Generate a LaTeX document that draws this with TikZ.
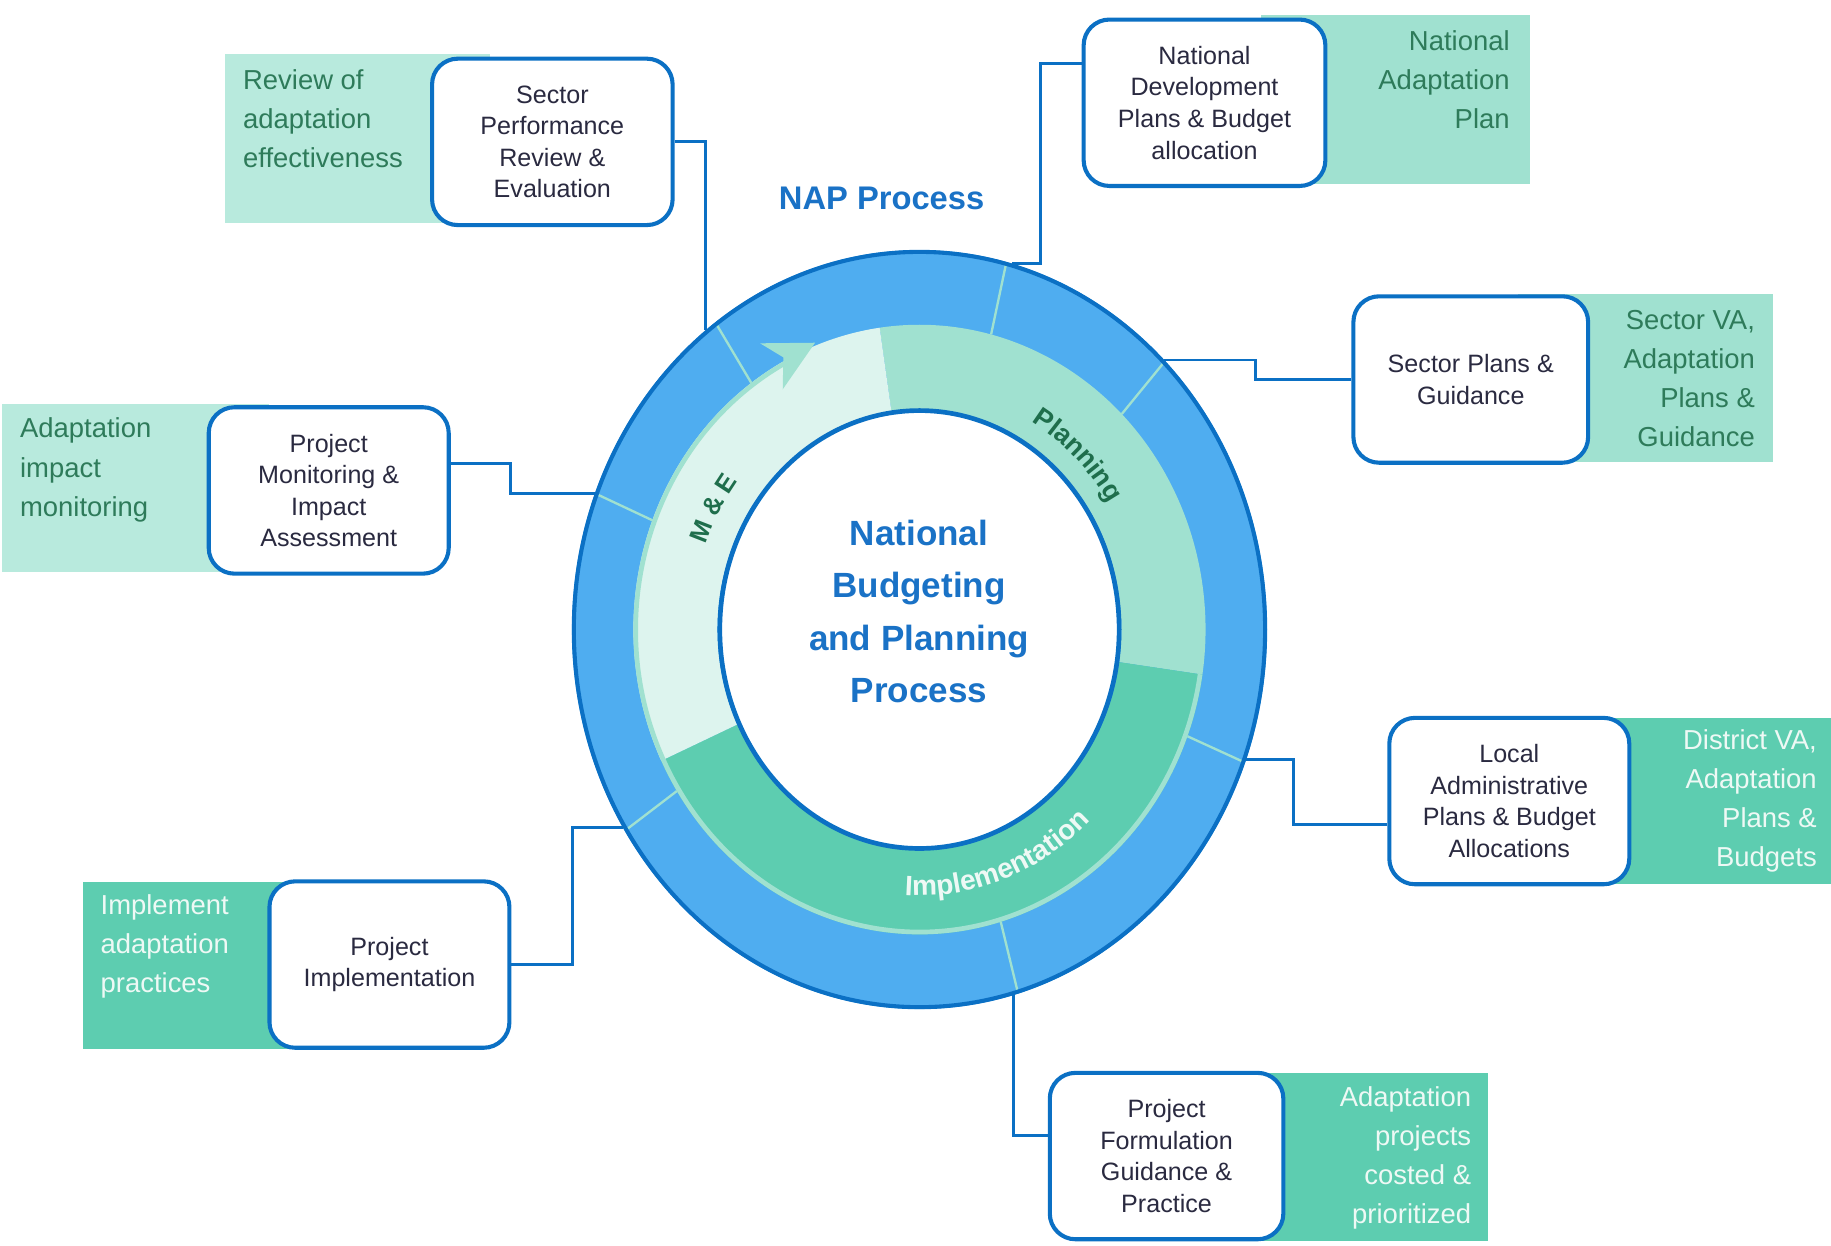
\documentclass[tikz,border=0pt]{standalone}
\usepackage{fontspec}
\setmainfont{Liberation Sans}
\usetikzlibrary{calc,decorations.text}

\definecolor{ringblue}{HTML}{4FADF0}
\definecolor{edgeblue}{HTML}{0B70C4}
\definecolor{mintpale}{HTML}{B8EADD}
\definecolor{mint}{HTML}{A0E1D0}
\definecolor{sea}{HTML}{5DCDB0}
\definecolor{mefill}{HTML}{DDF4EE}
\definecolor{labelgreen}{HTML}{2E7B5A}
\definecolor{ringtext}{HTML}{1F6E4C}
\definecolor{boxtext}{HTML}{2A2A40}
\definecolor{titleblue}{HTML}{1A72C6}
\definecolor{paletext}{HTML}{EEF9F5}

\begin{document}
\begin{tikzpicture}[x=1pt, y=-1pt,
  stagebox/.style={draw=edgeblue, line width=3.5pt, fill=white,
    rounded corners=22pt, minimum width=205.5pt, minimum height=142.5pt,
    inner sep=0pt, align=center, text=boxtext,
    font=\fontsize{21.5}{27}\selectfont},
  conn/.style={draw=edgeblue, line width=2.5pt},
  notel/.style={anchor=west, align=left, inner sep=0pt,
    font=\fontsize{23.5}{33.5}\selectfont},
  noter/.style={anchor=east, align=right, inner sep=0pt,
    font=\fontsize{23.5}{33.5}\selectfont},
  sep/.style={draw=mint, line width=2pt},
]
\useasboundingbox (0,0) rectangle (1568,1067);

% ---------- central cycle ----------
\begin{scope}[shift={(787.4,539.1)}, y=1pt]
  % blue outer ring
  \fill[ringblue] (0,0) ellipse[x radius=297.6, y radius=325];
  % phase bands
  \fill[mint] (-8.5:245 and 261) arc[start angle=-8.5, end angle=98, x radius=245, y radius=261]
     -- (98:173 and 189) arc[start angle=98, end angle=-8.5, x radius=173, y radius=189] -- cycle;
  \fill[sea] (205.5:245 and 261) arc[start angle=205.5, end angle=351.5, x radius=245, y radius=261]
     -- (351.5:173 and 189) arc[start angle=351.5, end angle=205.5, x radius=173, y radius=189] -- cycle;
  \fill[mefill] (98:245 and 261) arc[start angle=98, end angle=205.5, x radius=245, y radius=261]
     -- (205.5:173 and 189) arc[start angle=205.5, end angle=98, x radius=173, y radius=189] -- cycle;
  % cycle edge with arrow
  \draw[mint, line width=4pt] (118:243 and 259) arc[start angle=118, end angle=351.5, x radius=243, y radius=259];
  % ring dividers
  \foreach \a in {75.5,45,-20.5,-73.5,212,159,126}
    \draw[sep] (\a:245 and 261) -- (\a:296 and 323.4);
  % outer rim
  \draw[edgeblue, line width=3.5pt] (0,0) ellipse[x radius=296, y radius=323.4];
  % inner disc
  \draw[edgeblue, line width=4pt, fill=white] (0,0) ellipse[x radius=171, y radius=187.5];
  % attachment points on the rim
  \coordinate (e1) at (74.5:297.6 and 325);
  \coordinate (e2) at (45.25:297.6 and 325);
  \coordinate (e3) at (-20:297.6 and 325);
  \coordinate (e4) at (-74.3:297.6 and 325);
  \coordinate (e5) at (211.5:297.6 and 325);
  \coordinate (e6) at (159:297.6 and 325);
  \coordinate (e7) at (128:297.6 and 325);
  % phase names
  \path[decorate, decoration={text along path, text align=center,
      text={|\fontsize{23}{23}\selectfont\bfseries\color{ringtext}|Planning}}]
    (70:190.5 and 205.7) arc[start angle=70, end angle=22, x radius=190.5, y radius=205.7];
  \path[decorate, decoration={text along path, text align=center,
      text={|\fontsize{22}{22}\selectfont\bfseries\color{ringtext}|M {\&} E}}]
    (176:195 and 210.6) arc[start angle=176, end angle=126, x radius=195, y radius=210.6];
  \path[decorate, decoration={text along path, text align=center,
      text={|\fontsize{24}{24}\selectfont\bfseries\color{paletext}|Implementation}}]
    (-108:211 and 227.9) arc[start angle=-108, end angle=-32, x radius=211, y radius=227.9];
\end{scope}

% arrow head of the cycle
\fill[mint] (698,293.5) -- (650.9,294) -- (670.8,306) -- (670.3,333.4) -- cycle;

\node[align=center, inner sep=0pt, text=titleblue,
  font=\fontsize{30}{45}\selectfont\bfseries] (core) at (787,523.5)
  {National\\Budgeting\\and Planning\\Process};
\node[inner sep=0pt, text=titleblue, font=\fontsize{28}{28}\selectfont\bfseries]
  (nap) at (755,170) {NAP Process};

% ---------- outcome panels ----------
\fill[mintpale] (193,46) rectangle (420,191);
\fill[mintpale] (2,346) rectangle (230,490);
\fill[sea] (71,755) rectangle (280,898);
\fill[mint] (1080,13) rectangle (1310,158);
\fill[mint] (1300,252) rectangle (1518,396);
\fill[sea] (1330,615) rectangle (1568,757);
\fill[sea] (1050,919) rectangle (1274,1063);

\node[notel, text=labelgreen] (n1) at (208,101.5) {Review of\\adaptation\\effectiveness};
\node[notel, text=labelgreen] (n2) at (17,402.5) {Adaptation\\impact\\monitoring};
\node[notel, text=paletext] (n3) at (86,810.5) {Implement\\adaptation\\practices};
\node[noter, text=labelgreen] (n4) at (1293,68.5) {National\\Adaptation\\Plan};
\node[noter, text=labelgreen] (n5) at (1503,324) {Sector VA,\\Adaptation\\Plans \&\\Guidance};
\node[noter, text=paletext] (n6) at (1556,686) {District VA,\\Adaptation\\Plans \&\\Budgets};
\node[noter, text=paletext] (n7) at (1260,991.5) {Adaptation\\projects\\costed \&\\prioritized};

% ---------- process steps ----------
\node[stagebox, minimum width=206pt] (b1) at (473,121.5) {Sector\\Performance\\Review \&\\Evaluation};
\node[stagebox] (b2) at (281.5,420) {Project\\Monitoring \&\\Impact\\Assessment};
\node[stagebox] (b3) at (333.5,826) {Project\\Implementation};
\node[stagebox, minimum width=207pt] (b4) at (1031.5,88) {National\\Development\\Plans \& Budget\\allocation};
\node[stagebox, minimum width=201pt] (b5) at (1259.5,325) {Sector Plans \&\\Guidance};
\node[stagebox] (b6) at (1292.5,686) {Local\\Administrative\\Plans \& Budget\\Allocations};
\node[stagebox, minimum width=200pt] (b7) at (999,990) {Project\\Formulation\\Guidance \&\\Practice};

% ---------- links to the cycle ----------
\draw[conn] (b1.east) -| (e7);
\draw[conn] ($(b2.north east)!0.34!(b2.south east)$) -- ++(51,0) |- (e6);
\draw[conn] (b3.east) -- ++(52,0) |- (e5);
\draw[conn] ($(b4.north west)!0.27!(b4.south west)$) -- ++(-35,0) |- (e1);
\draw[conn] (b5.west) -- ++(-82,0) |- (e2);
\draw[conn] ($(b6.north west)!0.64!(b6.south west)$) -- ++(-80,0) |- (e3);
\draw[conn] ($(b7.north west)!0.38!(b7.south west)$) -| (e4);
\end{tikzpicture}
\end{document}
